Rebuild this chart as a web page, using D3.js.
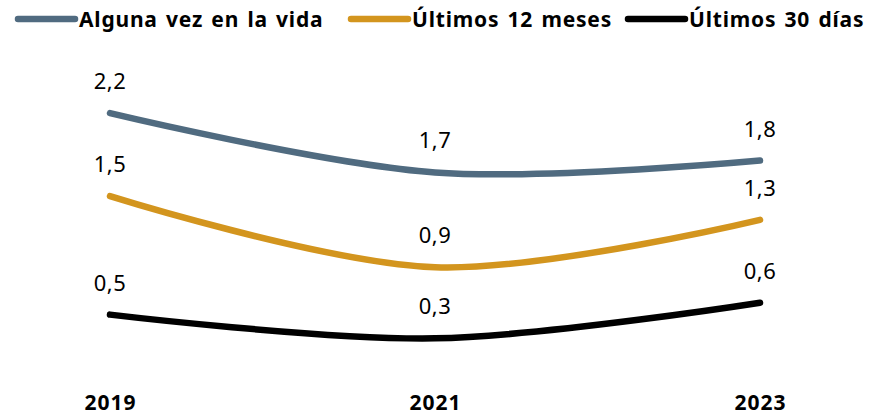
<!DOCTYPE html>
<html>
<head>
<meta charset="utf-8">
<script src="https://cdn.jsdelivr.net/npm/d3@7"></script>
<style>
  html, body { margin: 0; padding: 0; background: #fff; }
  svg { display: block; }
</style>
</head>
<body>
<div id="chart"></div>
<script>
const years = ['2019', '2021', '2023'];
const seriesNames = ['Alguna vez en la vida', 'Últimos 12 meses', 'Últimos 30 días'];
const algunaVez = [2.2, 1.7, 1.8];
const ultimos12 = [1.5, 0.9, 1.3];
const ultimos30 = [0.5, 0.3, 0.6];
const colors = ['#506b80', '#d3951e', '#000000'];

const width = 879, height = 417;
const font = "'Noto Sans', sans-serif";

const svg = d3.select('#chart').append('svg')
    .attr('width', width)
    .attr('height', height);

const x = d3.scalePoint()
    .domain(years)
    .range([110, 760]);

const y = d3.scaleLinear()
    .domain([0, 2.5])
    .range([373.9, 77.6]);

const series = [algunaVez, ultimos12, ultimos30].map((vals, i) => ({
    name: seriesNames[i],
    color: colors[i],
    values: vals.map((v, j) => ({ year: years[j], value: v }))
}));

const line = d3.line()
    .x(d => x(d.year))
    .y(d => y(d.value))
    .curve(d3.curveCatmullRom.alpha(0.5));

// lines
svg.append('g').selectAll('path')
    .data(series)
    .join('path')
    .attr('d', d => line(d.values))
    .attr('fill', 'none')
    .attr('stroke', d => d.color)
    .attr('stroke-width', 6.5)
    .attr('stroke-linecap', 'round');

// data labels
const fmt = v => d3.format('.1f')(v).replace('.', ',');
svg.append('g').selectAll('g')
    .data(series)
    .join('g')
    .selectAll('text')
    .data(d => d.values)
    .join('text')
    .attr('x', d => x(d.year))
    .attr('y', d => y(d.value) - 24)
    .attr('text-anchor', 'middle')
    .attr('font-family', font)
    .attr('font-size', 22)
    .attr('letter-spacing', 0.5)
    .attr('fill', '#000')
    .text(d => fmt(d.value));

// x axis labels
const xAxis = d3.axisBottom(x).tickSize(0).tickPadding(0);
const gx = svg.append('g')
    .attr('transform', 'translate(0,395)')
    .call(xAxis);
gx.select('.domain').remove();
gx.selectAll('text')
    .attr('font-family', font)
    .attr('font-size', 21)
    .attr('font-weight', 'bold')
    .attr('letter-spacing', 1)
    .attr('fill', '#000');

// legend
const legendX = [18, 351, 628];
const legend = svg.append('g').selectAll('g')
    .data(series)
    .join('g')
    .attr('transform', (d, i) => `translate(${legendX[i]},19)`);
legend.append('line')
    .attr('x1', 0).attr('x2', 57)
    .attr('stroke', d => d.color)
    .attr('stroke-width', 6.5)
    .attr('stroke-linecap', 'round');
legend.append('text')
    .attr('x', 61)
    .attr('y', 8)
    .attr('font-family', font)
    .attr('font-size', 21)
    .attr('font-weight', 'bold')
    .attr('letter-spacing', 0.8)
    .attr('word-spacing', 2)
    .attr('fill', '#000')
    .text(d => d.name);
</script>
</body>
</html>
